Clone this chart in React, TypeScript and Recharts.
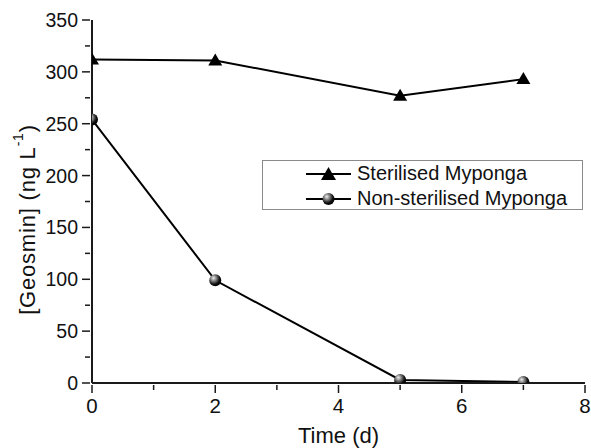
import React from 'react';
import { LineChart, Line, XAxis, YAxis, Legend } from 'recharts';

const days = [0, 2, 5, 7];
const sterilised = [312, 311, 277, 293];
const nonSterilised = [254, 99, 3, 1];
const xTicks = [0, 1, 2, 3, 4, 5, 6, 7, 8];
const xMajor = [0, 2, 4, 6, 8];
const yTicks = [0, 25, 50, 75, 100, 125, 150, 175, 200, 225, 250, 275, 300, 325, 350];
const yMajor = [0, 50, 100, 150, 200, 250, 300, 350];
const seriesNames = ['Sterilised Myponga', 'Non-sterilised Myponga'];
const xLabel = 'Time (d)';

const data = days.map((d, i) => ({ day: d, sterilised: sterilised[i], nonSterilised: nonSterilised[i] }));

const FONT = "Arial, 'Liberation Sans', Helvetica, sans-serif";
const AXIS = '#1a1a1a';

// chart layout
const W = 591;
const H = 448;
const MARGIN = { top: 20, right: 6, left: 0, bottom: 0 };
const Y_AXIS_W = 92;
const X_AXIS_H = 65;
const PLOT = {
  x: MARGIN.left + Y_AXIS_W,
  y: MARGIN.top,
  width: W - MARGIN.left - MARGIN.right - Y_AXIS_W,
  height: H - MARGIN.top - MARGIN.bottom - X_AXIS_H,
};

const SphereGrad = ({ id }: { id: string }) => (
  <defs>
    <radialGradient id={id} cx="38%" cy="35%" r="65%" fx="35%" fy="30%">
      <stop offset="0%" stopColor="#f0f0f0" />
      <stop offset="35%" stopColor="#888" />
      <stop offset="75%" stopColor="#111" />
      <stop offset="100%" stopColor="#000" />
    </radialGradient>
  </defs>
);

// nested svg clips its content to the plot area
const Clipped = ({ children }: { children: any }) => (
  <svg
    x={PLOT.x}
    y={PLOT.y}
    width={PLOT.width}
    height={PLOT.height}
    viewBox={`${PLOT.x} ${PLOT.y} ${PLOT.width} ${PLOT.height}`}
    overflow="hidden"
    style={{ overflow: 'hidden' }}
  >
    {children}
  </svg>
);

const TriangleDot = (props: any) => {
  const { cx, cy } = props;
  if (cx == null || cy == null) return null;
  return (
    <Clipped>
      <polygon points={`${cx},${cy - 7} ${cx - 7},${cy + 5} ${cx + 7},${cy + 5}`} fill="#000" />
    </Clipped>
  );
};

const SphereDot = (props: any) => {
  const { cx, cy, index } = props;
  if (cx == null || cy == null) return null;
  const id = 'sg' + index;
  return (
    <Clipped>
      <SphereGrad id={id} />
      <circle cx={cx} cy={cy} r={6} fill={`url(#${id})`} />
    </Clipped>
  );
};

const YTick = (props: any) => {
  const { x, y, payload } = props;
  const v = payload.value;
  const major = yMajor.includes(v);
  const len = major ? 8 : 5;
  return (
    <g>
      <line x1={x - len} y1={y} x2={x} y2={y} stroke={AXIS} strokeWidth={1.5} />
      {major && (
        <text x={x - 12} y={y} dy="0.36em" textAnchor="end" fontSize={19.5} fontFamily={FONT} fill="#111">
          {v}
        </text>
      )}
    </g>
  );
};

const XTick = (props: any) => {
  const { x, y, payload } = props;
  const v = payload.value;
  const major = xMajor.includes(v);
  const len = major ? 8 : 5;
  return (
    <g>
      <line x1={x} y1={y} x2={x} y2={y + len} stroke={AXIS} strokeWidth={1.5} />
      {major && (
        <text x={x} y={y + 28} textAnchor="middle" fontSize={20.5} fontFamily={FONT} fill="#111">
          {v}
        </text>
      )}
    </g>
  );
};

const YLabel = (props: any) => {
  const vb = props.viewBox || {};
  const cx = (vb.x ?? 0) + 27;
  const cy = (vb.y ?? 20) + (vb.height ?? 363) / 2 + 18;
  return (
    <text
      x={cx}
      y={cy}
      transform={`rotate(-90, ${cx}, ${cy})`}
      textAnchor="middle"
      dominantBaseline="central"
      fontSize={22}
      letterSpacing={0.8}
      fontFamily={FONT}
      fill="#111"
    >
      [Geosmin] (ng L
      <tspan dy={-9} fontSize={14}>-1</tspan>
      <tspan dy={9}>)</tspan>
    </text>
  );
};

const XLabel = (props: any) => {
  const vb = props.viewBox || {};
  const cx = (vb.x ?? 92) + (vb.width ?? 493) / 2;
  return (
    <text x={cx} y={443} textAnchor="middle" fontSize={22} fontFamily={FONT} fill="#111">
      {xLabel}
    </text>
  );
};

const LegendContent = () => (
  <div
    style={{
      boxSizing: 'border-box',
      width: 321,
      height: 50,
      border: '1px solid #8a8a8a',
      background: '#fff',
      fontFamily: FONT,
      fontSize: 20,
      color: '#111',
      paddingLeft: 43,
      paddingTop: 0,
    }}
  >
    {seriesNames.map((name, i) => (
      <div key={name} style={{ display: 'flex', alignItems: 'center', height: 25, lineHeight: '25px', whiteSpace: 'nowrap' }}>
        <svg width={45} height={16} style={{ marginRight: 6, flex: 'none' }}>
          <line x1={0} y1={8} x2={45} y2={8} stroke="#000" strokeWidth={2} />
          {i === 0 ? (
            <polygon points="22.5,1 15,14 30,14" fill="#000" />
          ) : (
            <g>
              <SphereGrad id="sgLegend" />
              <circle cx={22.5} cy={8} r={6} fill="url(#sgLegend)" />
            </g>
          )}
        </svg>
        <span>{name}</span>
      </div>
    ))}
  </div>
);

export default function App() {
  return (
    <div style={{ position: 'absolute', left: 0, top: 0, width: W, height: H, background: '#fff' }}>
      <LineChart width={W} height={H} data={data} margin={MARGIN}>
        <XAxis
          dataKey="day"
          type="number"
          domain={[0, 8]}
          ticks={xTicks}
          interval={0}
          allowDataOverflow
          height={X_AXIS_H}
          tickSize={0}
          tickLine={false}
          tick={<XTick />}
          axisLine={{ stroke: AXIS, strokeWidth: 2 }}
          label={<XLabel />}
        />
        <YAxis
          type="number"
          domain={[0, 350]}
          ticks={yTicks}
          interval={0}
          allowDataOverflow
          width={Y_AXIS_W}
          tickSize={0}
          tickLine={false}
          tick={<YTick />}
          axisLine={{ stroke: AXIS, strokeWidth: 2 }}
          label={<YLabel />}
        />
        <Legend
          layout="horizontal"
          verticalAlign="middle"
          align="center"
          wrapperStyle={{ position: 'absolute', left: 262, top: 160, width: 321, height: 50 }}
          content={<LegendContent />}
        />
        <Line
          dataKey="sterilised"
          name={seriesNames[0]}
          stroke="#000"
          strokeWidth={2}
          dot={<TriangleDot />}
          isAnimationActive={false}
        />
        <Line
          dataKey="nonSterilised"
          name={seriesNames[1]}
          stroke="#000"
          strokeWidth={2}
          dot={<SphereDot />}
          isAnimationActive={false}
        />
      </LineChart>
    </div>
  );
}
